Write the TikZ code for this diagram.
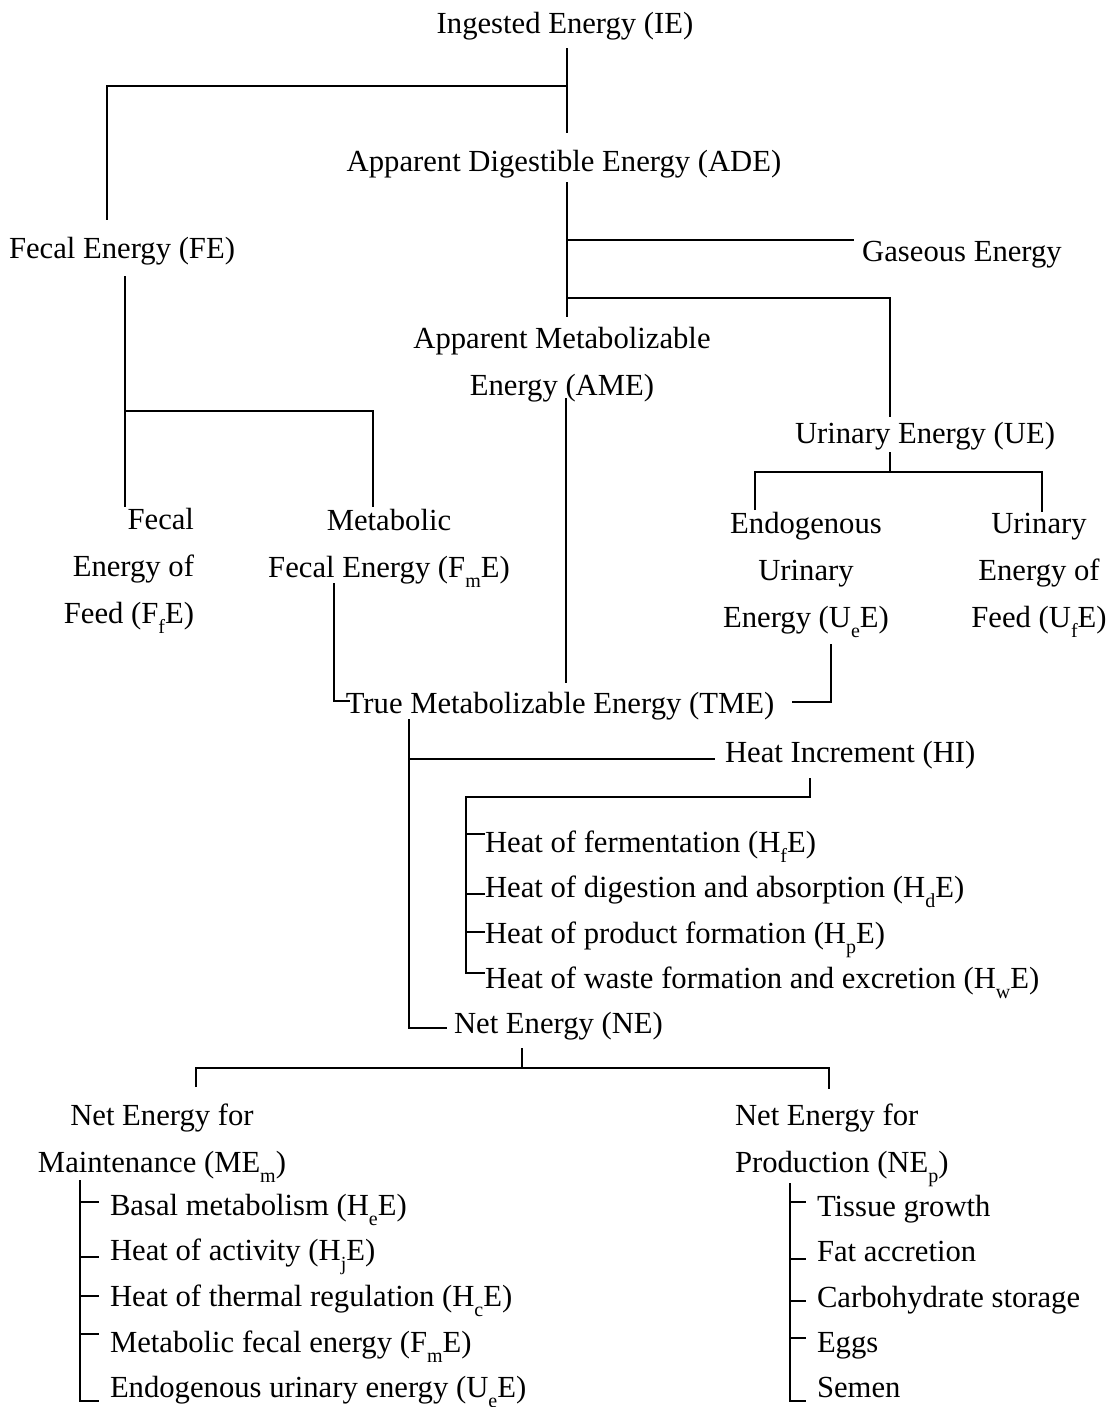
\documentclass[tikz,border=0pt]{standalone}
\usepackage{fontspec}
\setmainfont{Liberation Serif}
\newcommand\sbs[1]{\raisebox{-0.75ex}{\fontsize{15}{15}\selectfont #1}}
\begin{document}
\begin{tikzpicture}[x=0.75pt,y=-0.75pt,
  lbl/.style={inner sep=0pt,outer sep=0pt,font=\fontsize{23}{35}\selectfont,anchor=base},
  litem/.style={lbl,anchor=base west},
  conn/.style={line width=1.3pt,line join=miter}]
\useasboundingbox (0,0) rectangle (1109,1407);
% ---- nodes (multi-line nodes are placed by the baseline of their last line)
\node[lbl] (ie)  at (565,33)  {Ingested Energy (IE)};
\node[lbl] (ade) at (564,171) {Apparent Digestible Energy (ADE)};
\node[lbl] (fe)  at (122,258) {Fecal Energy (FE)};
\node[lbl] (ge)  at (962,261) {Gaseous Energy};
\node[lbl,align=center] (ame) at (562,395) {Apparent Metabolizable\\Energy (AME)};
\node[lbl] (ue)  at (925,443) {Urinary Energy (UE)};
\node[lbl,align=right,anchor=base east] (ffe) at (194,623) {Fecal\\Energy of\\Feed (F\sbs{f}E)};
\node[lbl,align=center] (fme) at (389,577) {Metabolic\\Fecal Energy (F\sbs{m}E)};
\node[lbl,align=center] (uee) at (806,627) {Endogenous\\Urinary\\Energy (U\sbs{e}E)};
\node[lbl,align=center] (ufe) at (1039,627) {Urinary\\Energy of\\Feed (U\sbs{f}E)};
\node[lbl] (tme) at (560,713) {True Metabolizable Energy (TME)};
\node[litem] (hi) at (725,762) {Heat Increment (HI)};
\node[litem] (h1) at (485,852) {Heat of fermentation (H\sbs{f}E)};
\node[litem] (h2) at (485,897) {Heat of digestion and absorption (H\sbs{d}E)};
\node[litem] (h3) at (485,943) {Heat of product formation (H\sbs{p}E)};
\node[litem] (h4) at (485,988) {Heat of waste formation and excretion (H\sbs{w}E)};
\node[litem] (ne) at (454,1033) {Net Energy (NE)};
\node[lbl,align=center] (nem) at (162,1172) {Net Energy for\\Maintenance (ME\sbs{m})};
\node[lbl,align=left,anchor=base west] (nep) at (735,1172) {Net Energy for\\Production (NE\sbs{p})};
\node[litem] (m1) at (110,1215) {Basal metabolism (H\sbs{e}E)};
\node[litem] (m2) at (110,1260) {Heat of activity (H\sbs{j}E)};
\node[litem] (m3) at (110,1306) {Heat of thermal regulation (H\sbs{c}E)};
\node[litem] (m4) at (110,1352) {Metabolic fecal energy (F\sbs{m}E)};
\node[litem] (m5) at (110,1397) {Endogenous urinary energy (U\sbs{e}E)};
\node[litem] (p1) at (817,1216) {Tissue growth};
\node[litem] (p2) at (817,1261) {Fat accretion};
\node[litem] (p3) at (817,1307) {Carbohydrate storage};
\node[litem] (p4) at (817,1352) {Eggs};
\node[litem] (p5) at (817,1397) {Semen};
% ---- junction coordinates
\coordinate (ieO) at (567,48);   \coordinate (ieJ) at (567,86);  \coordinate (adeI) at (567,133);
\coordinate (feC) at (107,86);   \coordinate (feI) at (107,220);
\coordinate (adeO) at (567,182); \coordinate (ameI) at (567,317);
\coordinate (geJ) at (567,240);  \coordinate (geI) at (854,240);
\coordinate (ueJ) at (567,298);  \coordinate (ueC) at (890,298); \coordinate (ueI) at (890,417);
\coordinate (ameO) at (566,398); \coordinate (tmeA) at (566,683);
\coordinate (feO) at (125,276);  \coordinate (feJ) at (125,411); \coordinate (ffeI) at (125,507);
\coordinate (fmeC) at (373,411); \coordinate (fmeI) at (373,507);
\coordinate (fmeO) at (334,583); \coordinate (tmeC1) at (334,701); \coordinate (tmeL) at (350,701);
\coordinate (ueeO) at (831,644); \coordinate (tmeC2) at (831,702); \coordinate (tmeR) at (792,702);
\coordinate (ueO) at (890,452);  \coordinate (ueF) at (890,472);
\coordinate (ueeC) at (755,472); \coordinate (ueeI) at (755,510);
\coordinate (ufeC) at (1042,472); \coordinate (ufeI) at (1042,512);
\coordinate (tmeO) at (409,719); \coordinate (hiJ) at (409,759); \coordinate (hiI) at (715,759);
\coordinate (neC) at (409,1028); \coordinate (neI) at (447,1028);
\coordinate (hiO) at (810,778);  \coordinate (hiC) at (810,797); \coordinate (hbC) at (466,797);
\coordinate (hb1) at (466,834); \coordinate (hb2) at (466,894); \coordinate (hb3) at (466,932); \coordinate (hb4) at (466,973);
\coordinate (neO) at (522,1048); \coordinate (neF) at (522,1068);
\coordinate (nemC) at (196,1068); \coordinate (nemI) at (196,1087);
\coordinate (nepC) at (829,1068); \coordinate (nepI) at (829,1089);
\coordinate (mbT) at (80,1180);
\coordinate (mb1) at (80,1202); \coordinate (mb2) at (80,1257); \coordinate (mb3) at (80,1296); \coordinate (mb4) at (80,1334); \coordinate (mb5) at (80,1401);
\coordinate (pbT) at (790,1183);
\coordinate (pb1) at (790,1202); \coordinate (pb2) at (790,1259); \coordinate (pb3) at (790,1301); \coordinate (pb4) at (790,1338); \coordinate (pb5) at (790,1401);
% ---- connectors
\draw[conn] (ieO) -- (adeI);
\draw[conn] (ieJ) -- (feC) -- (feI);
\draw[conn] (adeO) -- (ameI);
\draw[conn] (geJ) -- (geI);
\draw[conn] (ueJ) -- (ueC) -- (ueI);
\draw[conn] (ameO) -- (tmeA);
\draw[conn] (feO) -- (ffeI);
\draw[conn] (feJ) -- (fmeC) -- (fmeI);
\draw[conn] (fmeO) -- (tmeC1) -- (tmeL);
\draw[conn] (ueeO) -- (tmeC2) -- (tmeR);
\draw[conn] (ueO) -- (ueF);
\draw[conn] (ueeI) -- (ueeC) -- (ufeC) -- (ufeI);
\draw[conn] (tmeO) -- (neC) -- (neI);
\draw[conn] (hiJ) -- (hiI);
\draw[conn] (hiO) -- (hiC) -- (hbC) -- (hb4) -- (hb4 -| h4.west);
\draw[conn] (hb1) -- (hb1 -| h1.west);
\draw[conn] (hb2) -- (hb2 -| h2.west);
\draw[conn] (hb3) -- (hb3 -| h3.west);
\draw[conn] (neO) -- (neF);
\draw[conn] (nemI) -- (nemC) -- (nepC) -- (nepI);
\draw[conn] (mbT) -- (mb5) -- ([xshift=-8pt]mb5 -| m5.west);
\foreach \k in {1,2,3,4} \draw[conn] (mb\k) -- ([xshift=-8pt]mb\k -| m1.west);
\draw[conn] (pbT) -- (pb5) -- ([xshift=-8pt]pb5 -| p5.west);
\foreach \k in {1,2,3,4} \draw[conn] (pb\k) -- ([xshift=-8pt]pb\k -| p1.west);
\end{tikzpicture}
\end{document}
